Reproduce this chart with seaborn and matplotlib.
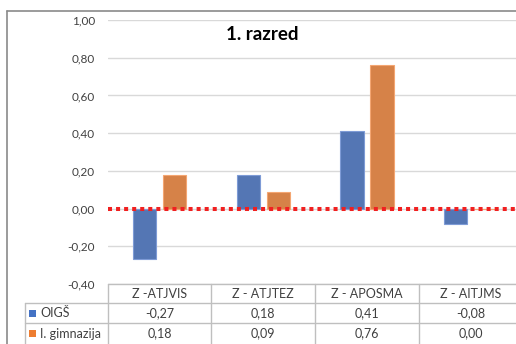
import matplotlib
matplotlib.use("Agg")
import matplotlib.pyplot as plt
import matplotlib.transforms as mtransforms
from matplotlib.lines import Line2D
from matplotlib.patches import Rectangle
import pandas as pd
import seaborn as sns

# data
categories = ["Z -ATJVIS", "Z - ATJTEZ", "Z - APOSMA", "Z - AITJMS"]
series_names = ["OIGŠ", "I. gimnazija"]
oigs = [-0.27, 0.18, 0.41, -0.08]
gimnazija = [0.18, 0.09, 0.76, 0.00]
y_ticks = [-0.40, -0.20, 0.00, 0.20, 0.40, 0.60, 0.80, 1.00]

colors = ["#4472C4", "#ED7D31"]
edge_colors = ["#7E9BD6", "#F4A672"]
text_color = "#404040"
grid_color = "#D9D9D9"
line_color = "#BFBFBF"


def fmt(v):
    return f"{v:.2f}".replace(".", ",").replace("-0,00", "0,00")


df = pd.DataFrame({
    "kategorija": categories * 2,
    "serija": [series_names[0]] * len(categories) + [series_names[1]] * len(categories),
    "vrijednost": oigs + gimnazija,
})

sns.set_style("white")
plt.rcParams["font.family"] = ["Lato", "DejaVu Sans"]

W, H = 516, 344
fig = plt.figure(figsize=(W / 100, H / 100), dpi=100)
ax_left, ax_right = 107.6, 516
ax_top, ax_bottom = 20, 284
ax = fig.add_axes([ax_left / W, 1 - ax_bottom / H, (ax_right - ax_left) / W, (ax_bottom - ax_top) / H])

sns.barplot(
    data=df,
    x="kategorija",
    y="vrijednost",
    hue="serija",
    hue_order=series_names,
    palette=colors,
    width=0.58,
    gap=0.23,
    ax=ax,
    legend=False,
    zorder=3,
)

# lighter outline on the bars, like the Excel original
n = len(categories)
for i, patch in enumerate(ax.patches[: 2 * n]):
    patch.set_edgecolor(edge_colors[i // n])
    patch.set_linewidth(0.8)

cat_w = 103.75
ax.set_xlim(-0.5, -0.5 + (ax_right - ax_left) / cat_w)
ax.set_ylim(-0.40, 1.00)
ax.set_yticks(y_ticks)
ax.set_yticklabels([fmt(v) for v in y_ticks])
ax.set_xticks([])
ax.set_xlabel("")
ax.set_ylabel("")
ax.tick_params(axis="y", length=0, pad=9, labelsize=8.5, labelcolor=text_color)
for s in ax.spines.values():
    s.set_visible(False)
ax.grid(axis="y", color=grid_color, linewidth=1, zorder=0)
ax.set_axisbelow(True)

# red dotted zero line
ax.axhline(0, color="#F02020", linewidth=2.9, linestyle=(0, (1, 1)),
           dash_capstyle="butt", zorder=4)

# title
fig.text(262 / W, 1 - 35 / H, "1. razred", ha="center", va="center",
         fontsize=13.5, fontweight="bold", color="black")

# outer chart border (left and top)
fig.add_artist(Line2D([7 / W, 7 / W], [0, 1 - 11 / H], color="#8A8A8A", linewidth=1.2))
fig.add_artist(Line2D([7 / W, 1], [1 - 11 / H, 1 - 11 / H], color="#8A8A8A", linewidth=1.2))

# data table under the plot
blend = mtransforms.blended_transform_factory(ax.transData, fig.transFigure)
row_y = [284, 303, 323, 344]
fy = lambda py: 1 - py / H
tfs = 9

# horizontal lines
fig.add_artist(Line2D([ax_left / W, 1], [fy(row_y[0])] * 2, color=line_color, linewidth=1))
for py in row_y[1:3]:
    fig.add_artist(Line2D([25 / W, 1], [fy(py)] * 2, color=line_color, linewidth=1))
# vertical lines
fig.add_artist(Line2D([25 / W, 25 / W], [fy(row_y[1]), 0], color=line_color, linewidth=1))
for k in range(n + 1):
    xk = k - 0.5
    fig.add_artist(Line2D([xk, xk], [fy(row_y[0]), 0], color=line_color, linewidth=1,
                          transform=blend))

# header row
for k, cat in enumerate(categories):
    fig.text(k, fy((row_y[0] + row_y[1]) / 2), cat, transform=blend, ha="center",
             va="center", fontsize=tfs, color=text_color)

# value rows with legend keys
for r, (name, vals) in enumerate(zip(series_names, [oigs, gimnazija])):
    yc = (row_y[r + 1] + row_y[r + 2]) / 2
    fig.add_artist(Rectangle((29 / W, fy(yc + 3.5)), 7 / W, 7 / H, transform=fig.transFigure,
                             facecolor=colors[r], edgecolor="none"))
    fig.text(40 / W, fy(yc), name, ha="left", va="center", fontsize=tfs, color=text_color)
    for k, v in enumerate(vals):
        fig.text(k, fy(yc), fmt(v), transform=blend, ha="center", va="center",
                 fontsize=tfs, color=text_color)

fig.savefig("out.png", dpi=100)
